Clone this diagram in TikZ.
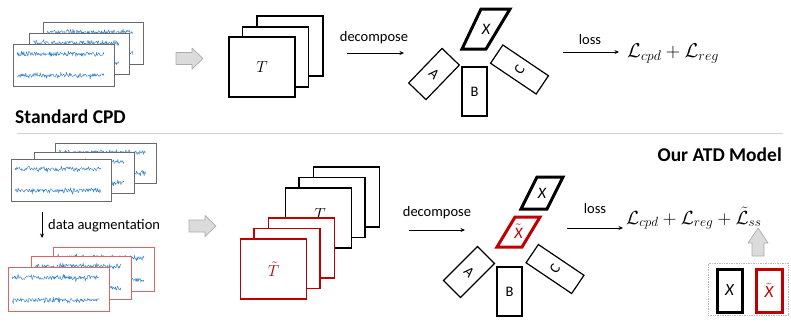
\RequirePackage{fix-cm}
\documentclass[tikz,border=0pt]{standalone}
\usepackage[no-math]{fontspec}
\setmainfont{Carlito}
\usetikzlibrary{arrows.meta}
\definecolor{tsgray}{HTML}{6A6A6A}
\definecolor{tsred}{HTML}{E06464}
\definecolor{darkred}{HTML}{C00000}
\definecolor{sigblue}{HTML}{3A82C8}
\newcommand{\setfs}[1]{\fontsize{#1}{#1}\selectfont}
\newcommand{\tsbox}[5]{%
  \draw[draw=#5, fill=white, line width=0.9pt] (#1,#2) rectangle (#3,#4);
  \pgfmathsetmacro{\tsxa}{#1+4}\pgfmathsetmacro{\tsxb}{#3-10}%
  \pgfmathsetmacro{\tsya}{#2+0.24*(#4-#2)}\pgfmathsetmacro{\tsyb}{#2+0.75*(#4-#2)}%
  \draw[sig] plot[domain=\tsxa:\tsxb, samples=140] (\x, {\tsya - (1.6+3.2*rnd*rnd)*rand});
  \draw[sig] plot[domain=\tsxa:\tsxb, samples=140] (\x, {\tsyb - (1.4+3.2*rnd*rnd)*rand});
}
\begin{document}
\begin{tikzpicture}[x=1pt,y=-1pt,
  sig/.style={sigblue, line width=0.45pt, line join=round},
  tbox/.style={draw=black, fill=white, line width=1.8pt, minimum width=66pt, minimum height=60pt, inner sep=0pt},
  rbox/.style={draw=darkred, fill=white, line width=1.6pt, minimum width=66pt, minimum height=60pt, inner sep=0pt},
  fac/.style={draw=black, fill=white, line width=1.2pt, inner sep=0pt, font=\setfs{14.5}},
  lbl/.style={font=\setfs{14.5}, inner sep=0pt},
  flow/.style={line width=0.8pt, -{Stealth[length=4.5pt,width=4pt]}},
  blockarrow/.style={fill=gray!28, draw=gray!65, line width=0.7pt, line join=round},
  title/.style={font=\bfseries\setfs{19.5}, inner sep=0pt},
  xlbl/.style={font=\itshape\setfs{16}, inner sep=0pt}
]
\useasboundingbox (0,0) rectangle (791,322);
\pgfmathsetseed{11}

% ---------------- Standard CPD ----------------
\tsbox{43}{22}{143}{64}{tsgray}
\tsbox{29}{33}{129}{74}{tsgray}
\tsbox{13}{44}{114}{86}{tsgray}

\draw[blockarrow] (176,52.5) -- (192,52.5) -- (192,48) -- (203,58.5) -- (192,69) -- (192,64.5) -- (176,64.5) -- cycle;

\node[tbox] (T1c) at (290,46) {};
\node[tbox] (T1b) at (275.5,57) {};
\node[tbox, font=\setfs{16}] (T1a) at (262,67) {$T$};

\node[lbl] (dec1) at (374,38) {decompose};
\coordinate (dec1s) at (347,53);
\coordinate (dec1e) at (404,53);
\draw[flow] (dec1s) -- (dec1e);

\draw[line width=3pt, line join=miter] (481,9) -- (510,9) -- (486,49) -- (462,49) -- cycle;
\node[xlbl] (X1) at (486,29) {X};
\node[fac, minimum width=24pt, minimum height=48pt, rotate=-44] (A1) at (434,74) {A};
\node[fac, minimum width=25pt, minimum height=49pt] (B1) at (474.5,91.5) {B};
\node[fac, minimum width=22pt, minimum height=55pt, rotate=56] (C1) at (519.5,69.5) {C};

\node[lbl] (loss1) at (590,40) {loss};
\coordinate (loss1s) at (563,52);
\coordinate (loss1e) at (619,52);
\draw[flow] (loss1s) -- (loss1e);
\node[anchor=base west, inner sep=0pt, font=\setfs{20}] (L1) at (627,57) {$\mathcal{L}_{cpd}+\mathcal{L}_{reg}$};

\node[title, anchor=base west] (std) at (15,123) {Standard CPD};

\coordinate (sepL) at (17,133);
\coordinate (sepR) at (783,133);
\draw[gray!35, line width=0.8pt] (sepL) -- (sepR);

% ---------------- Our ATD Model ----------------
\node[title, anchor=base east] (atd) at (782,161) {Our ATD Model};

\tsbox{55}{143}{156}{183}{tsgray}
\tsbox{34}{152}{134}{193}{tsgray}
\tsbox{11}{159}{111}{201}{tsgray}

\coordinate (augS) at (42,212);
\coordinate (augE) at (42,238);
\draw[flow] (augS) -- (augE);
\node[lbl, anchor=west] (aug) at (48,226) {data augmentation};

\tsbox{53}{247}{154}{291}{tsred}
\tsbox{31}{256}{131}{299}{tsred}
\tsbox{8}{267}{109}{311}{tsred}

\draw[blockarrow] (189,220) -- (205,220) -- (205,215.5) -- (216,226) -- (205,236.5) -- (205,232) -- (189,232) -- cycle;

\node[tbox] (T2c) at (346.5,197) {};
\node[tbox] (T2b) at (332,207.5) {};
\node[tbox] (T2a) at (318.5,218) {};
\node[inner sep=0pt, font=\setfs{16}] (T2l) at (320,214) {$T$};
\node[rbox] (R2c) at (301.5,248) {};
\node[rbox] (R2b) at (287,258.5) {};
\node[rbox, font=\setfs{16}, text=darkred] (R2a) at (273.5,269) {$\tilde{T}$};

\node[lbl] (dec2) at (437,213) {decompose};
\coordinate (dec2s) at (409,230);
\coordinate (dec2e) at (465,230);
\draw[flow] (dec2s) -- (dec2e);

\draw[line width=3pt, line join=miter] (537,177) -- (563,177) -- (547,209) -- (521,209) -- cycle;
\node[xlbl] (X2) at (542,193) {X};
\draw[darkred, line width=3pt, line join=miter] (515,217) -- (540,217) -- (522,247) -- (497,247) -- cycle;
\node[inner sep=0pt, text=darkred, font=\setfs{16}] (Xt2) at (518.5,231) {$\tilde{\mbox{\itshape X}}$};

\node[fac, minimum width=24pt, minimum height=48pt, rotate=-45] (A2) at (469,272) {A};
\node[fac, minimum width=25pt, minimum height=49pt] (B2) at (509.5,291.5) {B};
\node[fac, minimum width=22pt, minimum height=55pt, rotate=56] (C2) at (555,269) {C};

\node[lbl] (loss2) at (595,209) {loss};
\coordinate (loss2s) at (567,228);
\coordinate (loss2e) at (623,228);
\draw[flow] (loss2s) -- (loss2e);
\node[anchor=base west, inner sep=0pt, font=\setfs{19}] (L2) at (626,224) {$\mathcal{L}_{cpd}+\mathcal{L}_{reg}+\tilde{\mathcal{L}}_{ss}$};

\draw[blockarrow] (758,228) -- (768,243) -- (764,243) -- (764,256) -- (752,256) -- (752,243) -- (748,243) -- cycle;

\node[draw=gray!55, densely dotted, line width=0.7pt, minimum width=80pt, minimum height=52pt, inner sep=0pt] (aux) at (748,289) {};
\node[draw=black, line width=3pt, minimum width=25pt, minimum height=43pt, inner sep=0pt, font=\itshape\setfs{17}] (Xa) at (729.5,290.5) {X};
\node[draw=darkred, text=darkred, line width=3pt, minimum width=26pt, minimum height=43pt, inner sep=0pt, font=\setfs{17}] (Xb) at (769,290.5) {$\tilde{\mbox{\itshape X}}$};
\end{tikzpicture}
\end{document}
